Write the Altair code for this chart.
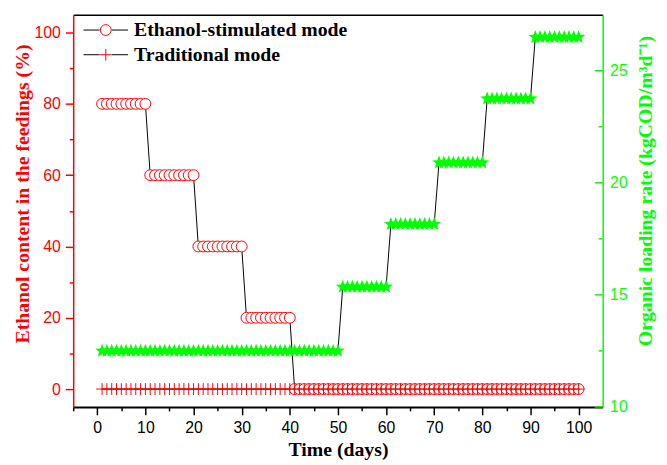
import math
import altair as alt
import pandas as pd

# ---------------- data ----------------
days = list(range(1, 101))
mode_names = ["Ethanol-stimulated mode", "Traditional mode"]
line_keys = ["Ethanol-stimulated mode line", "Traditional mode line"]

ethanol_levels = [80, 60, 40, 20, 0]
ethanol_level_days = [10, 10, 10, 10, 60]

traditional_levels = [0]
traditional_level_days = [100]

olr_levels = [12.5, 15.35, 18.15, 20.9, 23.75, 26.5]
olr_level_days = [50, 10, 10, 10, 10, 10]

x_ticks = list(range(-5, 101, 5))
left_ticks = list(range(0, 101, 10))
right_ticks = [10, 12.5, 15, 17.5, 20, 22.5, 25]
right_major = [10, 15, 20, 25]
right_minor = [12.5, 17.5, 22.5]


def expand(levels, counts):
    out = []
    for v, n in zip(levels, counts):
        out += [v] * n
    return out


eth = expand(ethanol_levels, ethanol_level_days)
trad = expand(traditional_levels, traditional_level_days)
olr = expand(olr_levels, olr_level_days)

eth_df = pd.DataFrame({"day": days, "value": eth, "mode": mode_names[0],
                       "series": line_keys[0]})
trad_df = pd.DataFrame({"day": days, "value": trad, "mode": mode_names[1],
                        "series": line_keys[1]})
left_df = pd.concat([eth_df, trad_df], ignore_index=True)
olr_df = pd.DataFrame({"day": days, "olr": olr})
maj_df = pd.DataFrame({"olr": right_major})
min_df = pd.DataFrame({"olr": right_minor})

# ---------------- styles ----------------
RED = "#ff0000"
GREEN = "#00ff00"
W, H = 536, 397
CIRCLE = "M0.44,0A0.44,0.44,0,1,1,-0.44,0A0.44,0.44,0,1,1,0.44,0Z"
PLUS = "M-0.48,0H0.48M0,-0.48V0.48"
GAPLINE = "M-1.8,0H-0.5M0.5,0H1.8"


def star_path(r_out=1.0, r_in=0.42):
    pts = []
    for k in range(10):
        r = r_out if k % 2 == 0 else r_in
        a = -math.pi / 2 + k * math.pi / 5
        pts.append(f"{r * math.cos(a):.3f},{r * math.sin(a):.3f}")
    return "M" + "L".join(pts) + "Z"


STAR = star_path()
SANS = "Liberation Sans"
SERIF = "Liberation Serif"


def xs():
    return alt.Scale(domain=[-5, 105], nice=False, zero=False)


def ls():
    return alt.Scale(domain=[-5, 105], nice=False, zero=False)


def rs():
    return alt.Scale(domain=[10, 27.5], nice=False, zero=False)


x_axis = alt.Axis(
    orient="bottom",
    values=x_ticks,
    labelExpr="datum.value % 10 === 0 ? datum.label : ''",
    tickSize={"condition": {"test": "datum.value % 10 === 0", "value": 8}, "value": 4},
    tickColor="black", tickWidth=1.5,
    domainColor="black", domainWidth=2,
    labelFont=SANS, labelFontSize=16, labelColor="black", labelPadding=5,
    labelFlush=False, labelOverlap=False,
    title="Time (days)", titleFont=SERIF, titleFontSize=20, titleFontWeight="bold",
    titleColor="black", titlePadding=4, grid=False,
)

x_top_axis = alt.Axis(
    orient="top", labels=False, ticks=False, domainColor="black",
    domainWidth=1.5, title=" ", grid=False,
)

left_axis = alt.Axis(
    orient="left",
    values=left_ticks,
    labelExpr="datum.value % 20 === 0 ? datum.label : ''",
    tickSize={"condition": {"test": "datum.value % 20 === 0", "value": 8}, "value": 4},
    tickColor=RED, tickWidth=1.5,
    domainColor=RED, domainWidth=1.5,
    labelFont=SANS, labelFontSize=16, labelColor=RED, labelPadding=5,
    labelOverlap=False, labelFlush=False,
    title="Ethanol content in the feedings (%)", titleFont=SERIF, titleFontSize=20,
    titleFontWeight="bold", titleColor=RED, titleAngle=270, titleBaseline="bottom",
    titlePadding=2, titleY=181, grid=False,
)

right_axis = alt.Axis(
    orient="right",
    values=right_ticks,
    labelExpr="datum.value % 5 === 0 ? datum.label : ''",
    ticks=False,
    domainColor=GREEN, domainWidth=1.5,
    labelFont=SANS, labelFontSize=16, labelColor=GREEN, labelPadding=7,
    labelOverlap=False, labelFlush=False,
    title="Organic loading rate (kgCOD/m³d⁻¹)", titleFont=SERIF, titleFontSize=20,
    titleFontWeight="bold", titleColor=GREEN, titleAngle=270, titleBaseline="top",
    titlePadding=9, titleY=178, grid=False,
)

legend_common = dict(
    title=None, orient="none", legendX=20, legendY=2.5, padding=0,
    rowPadding=2, symbolSize=625, symbolStrokeWidth=1, symbolOffset=0,
    labelFont=SERIF, labelFontSize=20, labelFontWeight="bold", labelColor="black",
    labelOffset=15.5, labelLimit=500,
)

line_color = alt.Color(
    "series:N",
    scale=alt.Scale(domain=line_keys, range=["black", "black"]),
    legend=alt.Legend(symbolType=GAPLINE, symbolStrokeColor="black",
                      symbolFillColor="transparent", labelOpacity=0,
                      **legend_common),
)

# ---------------- left (ethanol %) ----------------
eth_line = alt.Chart(eth_df).mark_line(strokeWidth=1).encode(
    x=alt.X("day:Q", scale=xs(), axis=None),
    y=alt.Y("value:Q", scale=ls(), axis=None),
    color=line_color,
)
trad_line = alt.Chart(trad_df).mark_line(strokeWidth=1).encode(
    x=alt.X("day:Q", scale=xs(), axis=None),
    y=alt.Y("value:Q", scale=ls(), axis=None),
    color=line_color,
)

left_points = alt.Chart(left_df).mark_point(
    filled=True, fill="white", strokeWidth=1, size=625, opacity=1
).encode(
    x=alt.X("day:Q", scale=xs(), axis=x_axis),
    y=alt.Y("value:Q", scale=ls(), axis=left_axis),
    shape=alt.Shape(
        "mode:N",
        scale=alt.Scale(domain=mode_names, range=[CIRCLE, PLUS]),
        legend=alt.Legend(symbolFillColor="white", **legend_common),
    ),
    stroke=alt.Stroke(
        "mode:N",
        scale=alt.Scale(domain=mode_names, range=[RED, RED]),
        legend=alt.Legend(symbolFillColor="white", **legend_common),
    ),
)

# ---------------- right (OLR) ----------------
olr_line = alt.Chart(olr_df).mark_line(color="black", strokeWidth=1).encode(
    x=alt.X("day:Q", scale=xs(), axis=None),
    y=alt.Y("olr:Q", scale=rs(), axis=None),
)
olr_stars = alt.Chart(olr_df).mark_point(
    shape=STAR, filled=True, color=GREEN, size=210, opacity=1
).encode(
    x=alt.X("day:Q", scale=xs(), axis=x_top_axis),
    y=alt.Y("olr:Q", scale=rs(), axis=right_axis),
)
ticks_major = alt.Chart(maj_df).mark_rule(color=GREEN, strokeWidth=1.5).encode(
    y=alt.Y("olr:Q", scale=rs(), axis=None),
    x=alt.value(W - 8), x2=alt.value(W),
)
ticks_minor = alt.Chart(min_df).mark_rule(color=GREEN, strokeWidth=1.5).encode(
    y=alt.Y("olr:Q", scale=rs(), axis=None),
    x=alt.value(W - 4), x2=alt.value(W),
)

chart = (
    alt.layer(eth_line, trad_line, left_points, olr_line, olr_stars,
              ticks_major, ticks_minor)
    .resolve_scale(x="independent", y="independent")
    .properties(
        width=W, height=H,
        autosize=alt.AutoSizeParams(type="none"),
        padding={"left": 66, "top": 4, "right": 57, "bottom": 56},
        background="white",
    )
    .configure_view(stroke=None)
)

chart.save("out.html", embed_options={"renderer": "svg", "actions": False})
